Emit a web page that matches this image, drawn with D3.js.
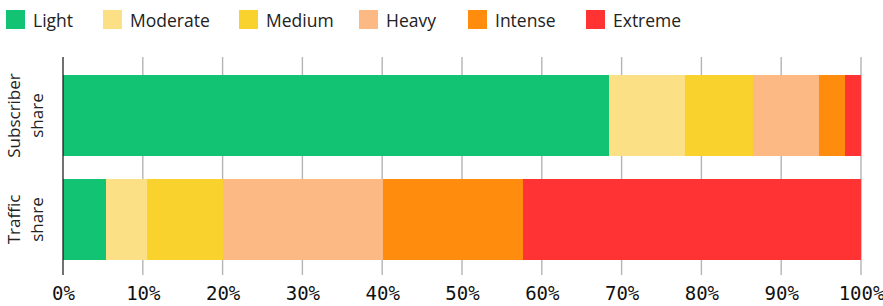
<!DOCTYPE html>
<html>
<head>
<meta charset="utf-8">
<script src="https://cdn.jsdelivr.net/npm/d3@7"></script>
<style>
  html, body { margin: 0; padding: 0; background: #fff; }
  svg { display: block; }
  .lbl { font-family: "Open Sans", "Noto Sans", sans-serif; fill: #222; }
  .tick text { font-family: "DejaVu Sans Mono", monospace; }
</style>
</head>
<body>
<svg id="chart" width="883" height="306"></svg>
<script>
const categories = ["Subscriber share", "Traffic share"];
const categoryLines = [["Subscriber", "share"], ["Traffic", "share"]];
const seriesNames = ["Light", "Moderate", "Medium", "Heavy", "Intense", "Extreme"];
const subscriberShare = [68.4, 9.5, 8.6, 8.2, 3.3, 2.0];
const trafficShare = [5.4, 5.1, 9.5, 20.1, 17.5, 42.4];
const tickValues = [0, 10, 20, 30, 40, 50, 60, 70, 80, 90, 100];
const colors = ["#12c373", "#fbe085", "#f9d22e", "#fdb983", "#ff8c0c", "#ff3333"];

const svg = d3.select("#chart");
const x = d3.scaleLinear().domain([0, 100]).range([63, 861]);
const y = d3.scaleBand().domain(categories).range([57, 278]).paddingInner(0.221).paddingOuter(0.173);

const rows = [subscriberShare, trafficShare].map((vals, i) => {
  const o = { cat: categories[i] };
  seriesNames.forEach((s, j) => o[s] = vals[j]);
  return o;
});
const stacked = d3.stack().keys(seriesNames)(rows);

// gridlines
svg.append("g").selectAll("line").data(tickValues.slice(1)).join("line")
  .attr("x1", d => x(d)).attr("x2", d => x(d))
  .attr("y1", 57).attr("y2", 275)
  .attr("stroke", "#b4b4b4").attr("stroke-width", 1.4);

// bars
svg.append("g").selectAll("g").data(stacked).join("g")
  .attr("fill", (d, i) => colors[i])
  .selectAll("rect").data(d => d).join("rect")
  .attr("x", d => x(d[0]))
  .attr("width", d => x(d[1]) - x(d[0]))
  .attr("y", d => y(d.data.cat))
  .attr("height", y.bandwidth())
  .attr("shape-rendering", "crispEdges");

// y axis line
svg.append("line").attr("x1", x(0)).attr("x2", x(0)).attr("y1", 57).attr("y2", 275)
  .attr("stroke", "#111").attr("stroke-width", 1.2);

// x axis labels
const xAxis = d3.axisBottom(x).tickValues(tickValues).tickFormat(d => d + "%").tickSize(0).tickPadding(0);
const gx = svg.append("g").attr("transform", "translate(0,286)").call(xAxis);
gx.select(".domain").remove();
gx.selectAll(".tick text").attr("font-size", 19).attr("fill", "#111").attr("dy", "0.71em");

// y labels
categories.forEach((c, i) => {
  const cy = y(c) + y.bandwidth() / 2;
  const t = svg.append("text").attr("class", "lbl")
    .attr("transform", `translate(20,${cy}) rotate(-90)`)
    .attr("text-anchor", "middle").attr("font-size", 17);
  categoryLines[i].forEach((ln, k) => {
    t.append("tspan").attr("x", 0).attr("y", k * 23).text(ln);
  });
});

// legend
const legendX = [6, 103, 239, 359, 468, 586];
const lg = svg.append("g").selectAll("g").data(seriesNames).join("g")
  .attr("transform", (d, i) => `translate(${legendX[i]},10)`);
lg.append("rect").attr("width", 19).attr("height", 19).attr("fill", (d, i) => colors[i]);
lg.append("text").attr("class", "lbl").attr("x", 27).attr("y", 16.7)
  .attr("font-size", 17.5).text(d => d);
</script>
</body>
</html>
